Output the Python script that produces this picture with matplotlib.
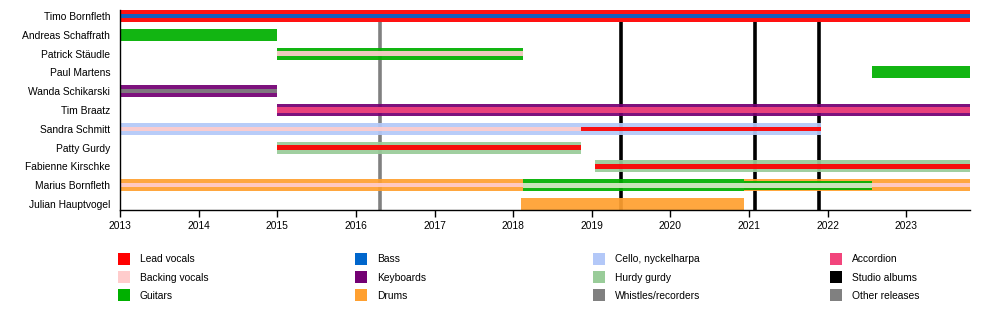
import matplotlib
matplotlib.use("Agg")
import matplotlib.pyplot as plt
from matplotlib.patches import Patch

plt.rcParams['font.family'] = ['Liberation Sans', 'DejaVu Sans']

START = 2013.0
END = 2023.81

members = ["Timo Bornfleth", "Andreas Schaffrath", "Patrick Stäudle", "Paul Martens",
           "Wanda Schikarski", "Tim Braatz", "Sandra Schmitt", "Patty Gurdy",
           "Fabienne Kirschke", "Marius Bornfleth", "Julian Hauptvogel"]

roles = ["Lead vocals", "Backing vocals", "Guitars", "Bass", "Keyboards", "Drums",
         "Cello, nyckelharpa", "Hurdy gurdy", "Whistles/recorders", "Accordion"]
role_colors = ["#ff0000", "#ffcccc", "#00b000", "#0066cc", "#730073", "#ffa030",
               "#b3c8f8", "#99cc99", "#808080", "#f2457c"]

# (member, role, start, end, layer) layer 0 = full bar, others narrower bands
spans = [
    ("Timo Bornfleth", "Lead vocals", 2013.0, END, 0),
    ("Timo Bornfleth", "Bass", 2013.0, END, 2),
    ("Andreas Schaffrath", "Guitars", 2013.0, 2015.0, 0),
    ("Patrick Stäudle", "Guitars", 2015.0, 2018.13, 0),
    ("Patrick Stäudle", "Backing vocals", 2015.0, 2018.13, 2),
    ("Paul Martens", "Guitars", 2022.57, END, 0),
    ("Wanda Schikarski", "Keyboards", 2013.0, 2015.0, 0),
    ("Wanda Schikarski", "Whistles/recorders", 2013.0, 2015.0, 2),
    ("Tim Braatz", "Keyboards", 2015.0, END, 0),
    ("Tim Braatz", "Accordion", 2015.0, END, 1),
    ("Sandra Schmitt", "Cello, nyckelharpa", 2013.0, 2021.92, 0),
    ("Sandra Schmitt", "Backing vocals", 2013.0, 2018.86, 2),
    ("Sandra Schmitt", "Lead vocals", 2018.86, 2021.92, 2),
    ("Patty Gurdy", "Hurdy gurdy", 2015.0, 2018.86, 0),
    ("Patty Gurdy", "Lead vocals", 2015.0, 2018.86, 1),
    ("Fabienne Kirschke", "Hurdy gurdy", 2019.04, END, 0),
    ("Fabienne Kirschke", "Lead vocals", 2019.04, END, 1),
    ("Marius Bornfleth", "Drums", 2013.0, 2018.13, 0),
    ("Marius Bornfleth", "Backing vocals", 2013.0, 2018.13, 2),
    ("Marius Bornfleth", "Guitars", 2018.13, 2020.93, 0),
    ("Marius Bornfleth", "Backing vocals", 2018.13, 2020.93, 3),
    ("Marius Bornfleth", "Drums", 2020.93, 2022.57, 0),
    ("Marius Bornfleth", "Guitars", 2020.93, 2022.57, 4),
    ("Marius Bornfleth", "Backing vocals", 2020.93, 2022.57, 3),
    ("Marius Bornfleth", "Drums", 2022.57, END, 0),
    ("Marius Bornfleth", "Backing vocals", 2022.57, END, 2),
    ("Julian Hauptvogel", "Drums", 2018.1, 2020.93, 0),
]

studio_albums = [2019.37, 2021.07, 2021.89]
other_releases = [2016.31]
years = list(range(2013, 2024))

color_of = dict(zip(roles, role_colors))
heights = {0: 0.64, 1: 0.27, 2: 0.23, 3: 0.26, 4: 0.46}
tints = {3: "#d8e8c8"}

fig = plt.figure(figsize=(10, 3.3), dpi=100)
ax = fig.add_axes([0.12, 0.3636, 0.85, 0.6061])

row = {m: i for i, m in enumerate(members)}

for x in other_releases:
    ax.vlines(x, 10.32, 0.32, color="#808080", lw=2.6, zorder=1)
for x in studio_albums:
    ax.vlines(x, 10.32, 0.32, color="#000000", lw=2.6, zorder=1)

for m, r, s, e, layer in spans:
    c = tints.get(layer, color_of[r])
    ax.barh(row[m], e - s, left=s, height=heights[layer], color=c,
            alpha=0.93, lw=0, zorder=2)

ax.set_xlim(START, END)
ax.set_ylim(10.32, -0.32)
ax.set_yticks(range(len(members)))
ax.set_yticklabels(members, fontsize=7.4)
ax.tick_params(axis="y", length=0, pad=7)
ax.set_xticks(years)
ax.set_xticklabels([str(y) for y in years], fontsize=7.4)
ax.tick_params(axis="x", length=5, width=1, direction="out", pad=3)
for side in ["top", "right"]:
    ax.spines[side].set_visible(False)
ax.spines["left"].set_linewidth(1)
ax.spines["bottom"].set_linewidth(1)

legend_items = roles[:] + ["Studio albums", "Other releases"]
legend_colors = role_colors[:] + ["#000000", "#808080"]
columns = [[0, 1, 2], [3, 4, 5], [6, 7, 8], [9, 10, 11]]
col_x = [0.118, 0.355, 0.593, 0.830]
for idx, cx in zip(columns, col_x):
    handles = [Patch(facecolor=legend_colors[i], edgecolor="none") for i in idx]
    fig.legend(handles, [legend_items[i] for i in idx], loc="upper left",
               bbox_to_anchor=(cx, 0.2333), frameon=False, fontsize=7.4,
               handlelength=1.19, handleheight=1.4, handletextpad=0.95,
               labelspacing=0.62, borderpad=0, borderaxespad=0)

fig.savefig("out.png", dpi=100)
